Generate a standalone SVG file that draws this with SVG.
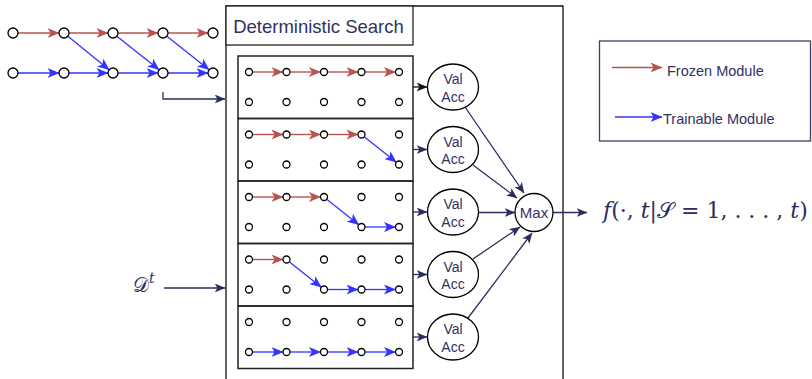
<svg xmlns="http://www.w3.org/2000/svg" width="812" height="379" viewBox="0 0 812 379">
<style>
.red{stroke:#b85450;stroke-width:1.4;fill:none;marker-end:url(#mr)}
.blue{stroke:#3333ff;stroke-width:1.3;fill:none;marker-end:url(#mb)}
.navy{stroke:#2a2e5e;stroke-width:1.3;fill:none;marker-end:url(#mn)}
.blk{stroke:#111;stroke-width:1.3;fill:none;marker-end:url(#mk)}
.nd{fill:#fff;stroke:#000;stroke-width:1.3}
.lbl{font-family:"Liberation Sans",Arial,sans-serif;fill:#2f3263}
.row{fill:none;stroke:#222;stroke-width:1.5}
.va{fill:#fff;stroke:#000;stroke-width:1.3}
</style>
<defs>
<marker id="mr" viewBox="0 0 12 10" refX="11.5" refY="5" markerWidth="12" markerHeight="10" markerUnits="userSpaceOnUse" orient="auto"><path d="M0,0 L12,5 L0,10 L3,5Z" fill="#b85450"/></marker>
<marker id="mb" viewBox="0 0 12 10" refX="11.5" refY="5" markerWidth="12" markerHeight="10" markerUnits="userSpaceOnUse" orient="auto"><path d="M0,0 L12,5 L0,10 L3,5Z" fill="#3333ff"/></marker>
<marker id="mn" viewBox="0 0 12 10" refX="11.5" refY="5" markerWidth="11" markerHeight="9" markerUnits="userSpaceOnUse" orient="auto"><path d="M0,0 L12,5 L0,10 L3,5Z" fill="#2a2e5e"/></marker>
<marker id="mk" viewBox="0 0 12 10" refX="11.5" refY="5" markerWidth="11" markerHeight="9" markerUnits="userSpaceOnUse" orient="auto"><path d="M0,0 L12,5 L0,10 L3,5Z" fill="#111"/></marker>
</defs>
<rect width="812" height="379" fill="#fff"/>

<g id="search-frame">
<path d="M226,385 L226,6 L563,6 L563,385" fill="none" stroke="#111" stroke-width="1.3"/>
<rect x="226" y="6" width="187" height="39" fill="#fff" stroke="#222" stroke-width="1.3"/>
<text class="lbl" x="318.5" y="33" font-size="18.5" text-anchor="middle">Deterministic Search</text>
</g>

<g id="connectors">
<path class="red" d="M18,33 H59"/><path class="red" d="M69,33 H108"/><path class="red" d="M118,33 H158"/><path class="red" d="M168,33 H208"/>
<path class="blue" d="M18,73 H59"/><path class="blue" d="M69,73 H108"/><path class="blue" d="M118,73 H158"/><path class="blue" d="M168,73 H208"/>
<path class="blue" d="M67.9,36.2 L109.1,69.8"/>
<path class="blue" d="M116.9,36.2 L159.1,69.8"/>
<path class="blue" d="M166.9,36.2 L209.1,69.8"/>
<path class="navy" d="M163,92 V99 H225"/>
<path class="navy" d="M164,288 H225"/>

<path class="red" d="M252.5,72 H283"/><path class="red" d="M290,72 H320.5"/><path class="red" d="M327.5,72 H358"/><path class="red" d="M365,72 H395.5"/>
<path class="red" d="M252.5,134.5 H283"/><path class="red" d="M290,134.5 H320.5"/><path class="red" d="M327.5,134.5 H358"/>
<path class="blue" d="M364.2,136.7 L396.3,162.3"/>
<path class="red" d="M252.5,197 H283"/><path class="red" d="M290,197 H320.5"/>
<path class="blue" d="M326.7,199.2 L358.8,224.8"/>
<path class="blue" d="M365,227 H395.5"/>
<path class="red" d="M252.5,259.5 H283"/>
<path class="blue" d="M289.2,261.7 L321.3,287.3"/>
<path class="blue" d="M327.5,289.5 H358"/><path class="blue" d="M365,289.5 H395.5"/>
<path class="blue" d="M252.5,352 H283"/><path class="blue" d="M290,352 H320.5"/><path class="blue" d="M327.5,352 H358"/><path class="blue" d="M365,352 H395.5"/>

<path class="blk" d="M413,87 H427"/>
<path class="navy" d="M413,149.5 H427"/><path class="navy" d="M413,212 H427"/><path class="navy" d="M413,274.5 H427"/><path class="navy" d="M413,337 H427"/>
<path class="navy" d="M465,107 L524,193"/>
<path class="navy" d="M473,165 L517,198"/>
<path class="navy" d="M478.5,212.5 L515,212.5"/>
<path class="navy" d="M473,259 L520,227"/>
<path class="navy" d="M468,318 L532,233"/>
<path class="navy" d="M553,212.5 L587,212.5"/>

<path class="red" d="M612,67.5 H662"/>
<path class="blue" d="M615,117 H662"/>
</g>

<g id="chain-nodes">
<circle class="nd" cx="13" cy="33" r="5"/><circle class="nd" cx="64" cy="33" r="5"/><circle class="nd" cx="113" cy="33" r="5"/><circle class="nd" cx="163" cy="33" r="5"/><circle class="nd" cx="213" cy="33" r="5"/>
<circle class="nd" cx="13" cy="73" r="5"/><circle class="nd" cx="64" cy="73" r="5"/><circle class="nd" cx="113" cy="73" r="5"/><circle class="nd" cx="163" cy="73" r="5"/><circle class="nd" cx="213" cy="73" r="5"/>
</g>

<g id="row1"><rect class="row" x="238" y="56" width="175" height="62.5"/></g>
<g id="row2"><rect class="row" x="238" y="118.5" width="175" height="62.5"/></g>
<g id="row3"><rect class="row" x="238" y="181" width="175" height="62.5"/></g>
<g id="row4"><rect class="row" x="238" y="243.5" width="175" height="62.5"/></g>
<g id="row5"><rect class="row" x="238" y="306" width="175" height="62.5"/></g>
<g id="row-nodes">
<g id="rn1">
<circle class="nd" cx="249" cy="72" r="3.5"/><circle class="nd" cx="286.5" cy="72" r="3.5"/><circle class="nd" cx="324" cy="72" r="3.5"/><circle class="nd" cx="361.5" cy="72" r="3.5"/><circle class="nd" cx="399" cy="72" r="3.5"/>
<circle class="nd" cx="249" cy="102" r="3.5"/><circle class="nd" cx="286.5" cy="102" r="3.5"/><circle class="nd" cx="324" cy="102" r="3.5"/><circle class="nd" cx="361.5" cy="102" r="3.5"/><circle class="nd" cx="399" cy="102" r="3.5"/>
</g>
<g id="rn2">
<circle class="nd" cx="249" cy="134.5" r="3.5"/><circle class="nd" cx="286.5" cy="134.5" r="3.5"/><circle class="nd" cx="324" cy="134.5" r="3.5"/><circle class="nd" cx="361.5" cy="134.5" r="3.5"/><circle class="nd" cx="399" cy="134.5" r="3.5"/>
<circle class="nd" cx="249" cy="164.5" r="3.5"/><circle class="nd" cx="286.5" cy="164.5" r="3.5"/><circle class="nd" cx="324" cy="164.5" r="3.5"/><circle class="nd" cx="361.5" cy="164.5" r="3.5"/><circle class="nd" cx="399" cy="164.5" r="3.5"/>
</g>
<g id="rn3">
<circle class="nd" cx="249" cy="197" r="3.5"/><circle class="nd" cx="286.5" cy="197" r="3.5"/><circle class="nd" cx="324" cy="197" r="3.5"/><circle class="nd" cx="361.5" cy="197" r="3.5"/><circle class="nd" cx="399" cy="197" r="3.5"/>
<circle class="nd" cx="249" cy="227" r="3.5"/><circle class="nd" cx="286.5" cy="227" r="3.5"/><circle class="nd" cx="324" cy="227" r="3.5"/><circle class="nd" cx="361.5" cy="227" r="3.5"/><circle class="nd" cx="399" cy="227" r="3.5"/>
</g>
<g id="rn4">
<circle class="nd" cx="249" cy="259.5" r="3.5"/><circle class="nd" cx="286.5" cy="259.5" r="3.5"/><circle class="nd" cx="324" cy="259.5" r="3.5"/><circle class="nd" cx="361.5" cy="259.5" r="3.5"/><circle class="nd" cx="399" cy="259.5" r="3.5"/>
<circle class="nd" cx="249" cy="289.5" r="3.5"/><circle class="nd" cx="286.5" cy="289.5" r="3.5"/><circle class="nd" cx="324" cy="289.5" r="3.5"/><circle class="nd" cx="361.5" cy="289.5" r="3.5"/><circle class="nd" cx="399" cy="289.5" r="3.5"/>
</g>
<g id="rn5">
<circle class="nd" cx="249" cy="322" r="3.5"/><circle class="nd" cx="286.5" cy="322" r="3.5"/><circle class="nd" cx="324" cy="322" r="3.5"/><circle class="nd" cx="361.5" cy="322" r="3.5"/><circle class="nd" cx="399" cy="322" r="3.5"/>
<circle class="nd" cx="249" cy="352" r="3.5"/><circle class="nd" cx="286.5" cy="352" r="3.5"/><circle class="nd" cx="324" cy="352" r="3.5"/><circle class="nd" cx="361.5" cy="352" r="3.5"/><circle class="nd" cx="399" cy="352" r="3.5"/>
</g>
</g>

<g id="val1"><ellipse class="va" cx="453" cy="87" rx="25.5" ry="23"/><text class="lbl" font-size="14" text-anchor="middle"><tspan x="453" y="84">Val</tspan><tspan x="453" y="101.5">Acc</tspan></text></g>
<g id="val2"><ellipse class="va" cx="453" cy="149.5" rx="25.5" ry="23"/><text class="lbl" font-size="14" text-anchor="middle"><tspan x="453" y="146.5">Val</tspan><tspan x="453" y="164">Acc</tspan></text></g>
<g id="val3"><ellipse class="va" cx="453" cy="212" rx="25.5" ry="23"/><text class="lbl" font-size="14" text-anchor="middle"><tspan x="453" y="209">Val</tspan><tspan x="453" y="226.5">Acc</tspan></text></g>
<g id="val4"><ellipse class="va" cx="453" cy="274.5" rx="25.5" ry="23"/><text class="lbl" font-size="14" text-anchor="middle"><tspan x="453" y="271.5">Val</tspan><tspan x="453" y="289">Acc</tspan></text></g>
<g id="val5"><ellipse class="va" cx="453" cy="337" rx="25.5" ry="23"/><text class="lbl" font-size="14" text-anchor="middle"><tspan x="453" y="334">Val</tspan><tspan x="453" y="351.5">Acc</tspan></text></g>

<g id="max"><circle class="va" cx="534" cy="212.5" r="19"/><text class="lbl" x="534" y="218" font-size="15" text-anchor="middle">Max</text></g>

<g id="formula"><text x="603" y="218" font-family="'DejaVu Serif','Liberation Serif',serif" font-size="22" fill="#2a2e5e"><tspan font-style="italic">f</tspan>(·, <tspan font-style="italic">t</tspan>|𝒮 = 1, . . . , <tspan font-style="italic">t</tspan>)</text></g>

<g id="data"><text x="133" y="292" font-family="'DejaVu Serif','Liberation Serif',serif" font-size="20" fill="#2a2e5e">𝒟<tspan font-size="14" font-style="italic" dy="-9">t</tspan></text></g>

<g id="legend">
<rect x="599.5" y="41" width="211" height="100" fill="none" stroke="#3c3f66" stroke-width="1.3"/>
<text class="lbl" x="667" y="76" font-size="14.5">Frozen Module</text>
<text class="lbl" x="663" y="123.5" font-size="14.5">Trainable Module</text>
</g>
</svg>
